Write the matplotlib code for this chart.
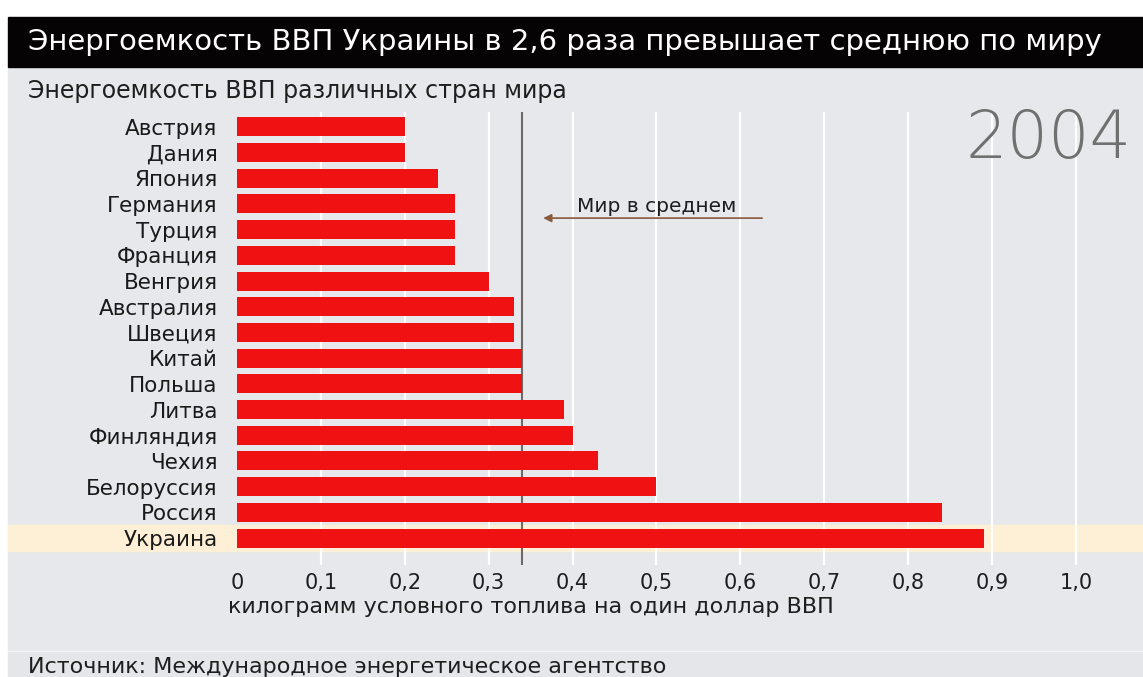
import numpy as np
import matplotlib
matplotlib.use("Agg")
import matplotlib.pyplot as plt
from matplotlib.patches import Rectangle
from matplotlib.transforms import blended_transform_factory

# Energy intensity of GDP, kg of oil equivalent per dollar of GDP, 2004
countries = ["Австрия", "Дания", "Япония", "Германия", "Турция", "Франция",
             "Венгрия", "Австралия", "Швеция", "Китай", "Польша", "Литва",
             "Финляндия", "Чехия", "Белоруссия", "Россия", "Украина"]
values = [0.20, 0.20, 0.24, 0.26, 0.26, 0.26, 0.30, 0.33, 0.33, 0.34, 0.34,
          0.39, 0.40, 0.43, 0.50, 0.84, 0.89]
world_avg = 0.34
highlight = "Украина"
xticks = [0, 0.1, 0.2, 0.3, 0.4, 0.5, 0.6, 0.7, 0.8, 0.9, 1.0]
xtick_labels = ["0", "0,1", "0,2", "0,3", "0,4", "0,5", "0,6", "0,7", "0,8", "0,9", "1,0"]

title = "Энергоемкость ВВП Украины в 2,6 раза превышает среднюю по миру"
subtitle = "Энергоемкость ВВП различных стран мира"
xlabel = "килограмм условного топлива на один доллар ВВП"
source = "Источник: Международное энергетическое агентство"
year = "2004"
avg_label = "Мир в среднем"

W, H = 1143, 677
plt.rcParams['font.family'] = ['DejaVu Sans']


def fx(px):
    return px / W


def fy(py):
    return 1 - py / H


fig = plt.figure(figsize=(W / 100, H / 100), dpi=100, facecolor="white")

# background panels: grey body, black title bar, footer strip
fig.patches.append(Rectangle((fx(8), fy(650)), 1 - fx(8), fy(67) - fy(650),
                             transform=fig.transFigure, color="#e6e8eb", zorder=-2))
fig.patches.append(Rectangle((fx(8), fy(67)), 1 - fx(8), fy(17) - fy(67),
                             transform=fig.transFigure, color="#050304", zorder=-2))
fig.patches.append(Rectangle((fx(8), 0), 1 - fx(8), fy(652),
                             transform=fig.transFigure, color="#e4e6e9", zorder=-2))

fig.text(fx(28), fy(42), title, color="white", fontsize=21, va="center", ha="left")
fig.text(fx(28), fy(91), subtitle, color="#1e1e1e", fontsize=17, va="center", ha="left")
fig.text(fx(228), fy(607), xlabel, color="#1e1e1e", fontsize=16, va="center", ha="left")
fig.text(fx(28), fy(667), source, color="#1e1e1e", fontsize=16, va="center", ha="left")

ax = fig.add_axes([fx(237), fy(565), 1 - fx(237), fy(112) - fy(565)])
ax.patch.set_visible(False)

y = np.arange(len(countries))
ax.set_ylim(17.05, -0.58)
ax.set_xlim(0, 1.08)

# highlight strip across the whole width for Ukraine
hi = countries.index(highlight)
trans = blended_transform_factory(fig.transFigure, ax.transData)
ax.add_patch(Rectangle((fx(8), hi - 0.5), 1 - fx(8), 1.0, transform=trans,
                       color="#fdf0d6", zorder=0, clip_on=False))

for t in xticks[1:]:
    ax.axvline(t, color="white", lw=1.6, zorder=1)
ax.axvline(world_avg, color="#6f6a66", lw=1.5, zorder=1.5)

ax.barh(y, values, height=0.74, color="#f01212", zorder=2)

ax.set_yticks(y)
ax.set_yticklabels(countries, fontsize=15.5, color="#1a1a1a")
ax.set_xticks(xticks)
ax.set_xticklabels(xtick_labels, fontsize=15, color="#1e1e1e")
ax.tick_params(axis="both", length=0)
ax.tick_params(axis="y", pad=14)
ax.tick_params(axis="x", pad=6)
for s in ax.spines.values():
    s.set_visible(False)

# world average pointer
ax.annotate("", xy=(world_avg + 0.025, 3.55), xytext=(0.626, 3.55),
            arrowprops=dict(arrowstyle="-|>", color="#8a5a3e", lw=1.2,
                            mutation_scale=12, shrinkA=0, shrinkB=0), zorder=3)
ax.text(0.405, 3.1, avg_label, fontsize=14.5, color="#1e1e1e", va="center", ha="left")

fig.text(fx(1132), fy(140), year, fontsize=47, color="#707070", fontweight="light",
         va="center", ha="right")

fig.savefig("out.png", dpi=100, facecolor=fig.get_facecolor())
